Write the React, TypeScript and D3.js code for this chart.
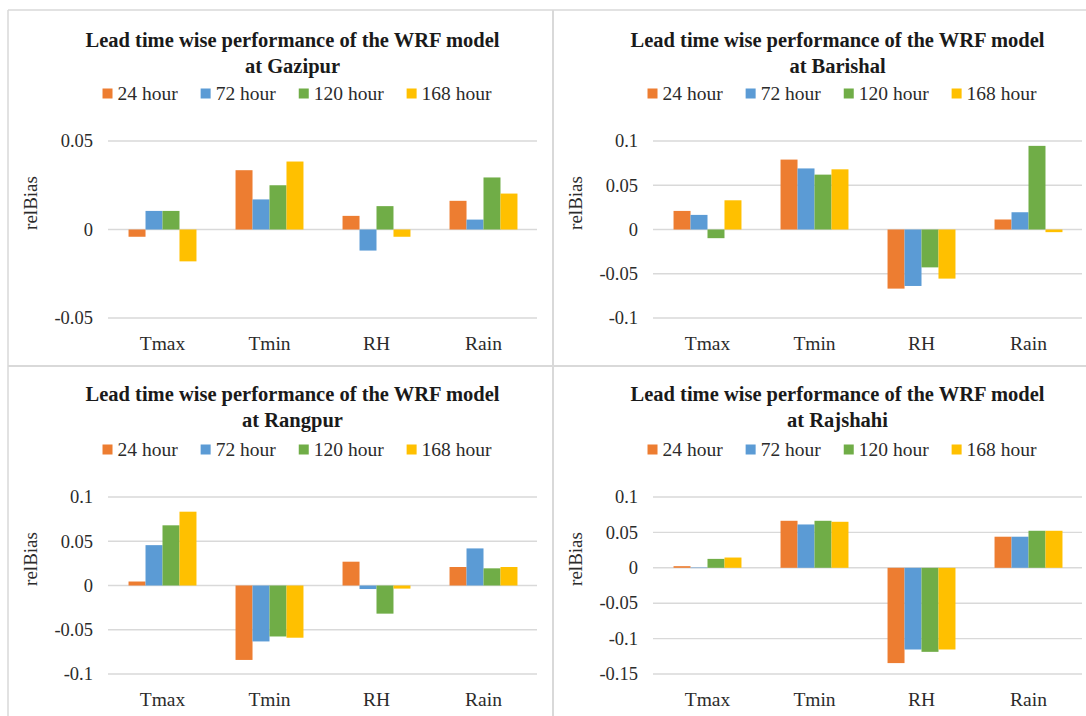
import React from 'react';
import * as d3 from 'd3';

const categories = ['Tmax', 'Tmin', 'RH', 'Rain'];
const seriesNames = ['24 hour', '72 hour', '120 hour', '168 hour'];
const seriesColors = ['#ED7D31', '#5B9BD5', '#70AD47', '#FFC000'];

// Gazipur
const gazipur24h = [-0.0041, 0.0335, 0.0077, 0.0162];
const gazipur72h = [0.0105, 0.017, -0.0119, 0.0056];
const gazipur120h = [0.0105, 0.025, 0.0132, 0.0294];
const gazipur168h = [-0.018, 0.0384, -0.0041, 0.0203];
const gazipurTicks = [-0.05, 0, 0.05];
const gazipurTickLabels = ['-0.05', '0', '0.05'];

// Barishal
const barishal24h = [0.021, 0.079, -0.0668, 0.0113];
const barishal72h = [0.0165, 0.069, -0.0638, 0.0195];
const barishal120h = [-0.0098, 0.062, -0.0428, 0.0945];
const barishal168h = [0.033, 0.068, -0.0555, -0.003];
const barishalTicks = [-0.1, -0.05, 0, 0.05, 0.1];
const barishalTickLabels = ['-0.1', '-0.05', '0', '0.05', '0.1'];

// Rangpur
const rangpur24h = [0.0045, -0.0841, 0.0269, 0.0209];
const rangpur72h = [0.0456, -0.0632, -0.004, 0.0419];
const rangpur120h = [0.068, -0.0576, -0.0318, 0.0194];
const rangpur168h = [0.0834, -0.059, -0.0035, 0.0209];
const rangpurTicks = [-0.1, -0.05, 0, 0.05, 0.1];
const rangpurTickLabels = ['-0.1', '-0.05', '0', '0.05', '0.1'];

// Rajshahi
const rajshahi24h = [0.0023, 0.0664, -0.1346, 0.0439];
const rajshahi72h = [0.0003, 0.0612, -0.1154, 0.0439];
const rajshahi120h = [0.0126, 0.0664, -0.1187, 0.0523];
const rajshahi168h = [0.0145, 0.065, -0.1154, 0.0523];
const rajshahiTicks = [-0.15, -0.1, -0.05, 0, 0.05, 0.1];
const rajshahiTickLabels = ['-0.15', '-0.1', '-0.05', '0', '0.05', '0.1'];

const FONT = "'Liberation Serif', 'Times New Roman', serif";
const GRID = '#d9d9d9';
const TEXT = '#2b2b2b';

let measureCanvas: HTMLCanvasElement | null = null;
function measure(text: string, font: string): number {
  if (!measureCanvas) measureCanvas = document.createElement('canvas');
  const ctx = measureCanvas.getContext('2d')!;
  ctx.font = font;
  return ctx.measureText(text).width;
}

type PanelProps = {
  left: number;
  top: number;
  station: string;
  series: number[][];
  ticks: number[];
  tickLabels: string[];
  titleShift?: number;
};

function Panel({ left, top, station, series, ticks, tickLabels, titleShift = 0 }: PanelProps) {
  const x0 = left + 101;
  const x1 = left + 529;
  const yTop = top + 131;
  const yBot = top + 308;
  const x = d3.scaleBand<string>().domain(categories).range([x0, x1]).paddingInner(0).paddingOuter(0);
  const xs = d3
    .scaleBand<string>()
    .domain(seriesNames)
    .range([0, x.bandwidth()])
    .paddingInner(0)
    .paddingOuter(1.15);
  const y = d3
    .scaleLinear()
    .domain([d3.min(ticks)!, d3.max(ticks)!])
    .range([yBot, yTop]);

  const legendFontSize = 19.5;
  const legendFont = `${legendFontSize}px ${FONT}`;
  const sq = 10;
  const sqGap = 5;
  const itemGap = 23;
  const widths = seriesNames.map((s) => sq + sqGap + measure(s, legendFont));
  const total = d3.sum(widths) + itemGap * (seriesNames.length - 1);
  let lx = left + 289 - total / 2;
  const legendBase = top + 89.5;
  const legendItems = seriesNames.map((s, i) => {
    const item = { name: s, x: lx, color: seriesColors[i] };
    lx += widths[i] + itemGap;
    return item;
  });

  return (
    <g>
      <text
        x={left + 284.5}
        y={top + 37 + titleShift}
        textAnchor="middle"
        fontFamily={FONT}
        fontWeight="bold"
        fontSize={20.5}
        fill="#1a1a1a"
      >
        Lead time wise performance of the WRF model
      </text>
      <text
        x={left + 284.5}
        y={top + 63 + titleShift}
        textAnchor="middle"
        fontFamily={FONT}
        fontWeight="bold"
        fontSize={20.5}
        fill="#1a1a1a"
      >
        {`at ${station}`}
      </text>
      {legendItems.map((it) => (
        <g key={it.name}>
          <rect x={it.x} y={legendBase - 11} width={sq} height={sq} fill={it.color} />
          <text
            x={it.x + sq + sqGap}
            y={legendBase}
            fontFamily={FONT}
            fontSize={legendFontSize}
            fill={TEXT}
          >
            {it.name}
          </text>
        </g>
      ))}
      {ticks.map((t, i) => (
        <g key={t}>
          <line x1={x0 - 1} x2={x1} y1={y(t)} y2={y(t)} stroke={GRID} strokeWidth={1.4} />
          <text
            x={x0 - 16}
            y={y(t)}
            dy="0.34em"
            textAnchor="end"
            fontFamily={FONT}
            fontSize={18.5}
            fill={TEXT}
          >
            {tickLabels[i]}
          </text>
        </g>
      ))}
      {series.map((vals, si) =>
        vals.map((v, ci) => {
          const cat = categories[ci];
          const bx = x(cat)! + xs(seriesNames[si])!;
          const ya = y(Math.max(0, v));
          const yb = y(Math.min(0, v));
          return (
            <rect
              key={`${si}-${ci}`}
              x={bx}
              y={ya}
              width={xs.bandwidth()}
              height={Math.max(0.5, yb - ya)}
              fill={seriesColors[si]}
            />
          );
        })
      )}
      {categories.map((c) => (
        <text
          key={c}
          x={x(c)! + x.bandwidth() / 2}
          y={top + 340}
          textAnchor="middle"
          fontFamily={FONT}
          fontSize={19.5}
          fill={TEXT}
        >
          {c}
        </text>
      ))}
      <text
        transform={`translate(${left + 29},${top + 193}) rotate(-90)`}
        textAnchor="middle"
        fontFamily={FONT}
        fontSize={19}
        fill={TEXT}
      >
        relBias
      </text>
    </g>
  );
}

export default function App() {
  return (
    <svg
      width={1086}
      height={716}
      style={{ position: 'absolute', left: 0, top: 0, background: '#fff' }}
    >
      <rect x={0} y={0} width={1086} height={716} fill="#fff" />
      <Panel
        left={8}
        top={10}
        station="Gazipur"
        series={[gazipur24h, gazipur72h, gazipur120h, gazipur168h]}
        ticks={gazipurTicks}
        tickLabels={gazipurTickLabels}
      />
      <Panel
        left={553}
        top={10}
        station="Barishal"
        series={[barishal24h, barishal72h, barishal120h, barishal168h]}
        ticks={barishalTicks}
        tickLabels={barishalTickLabels}
      />
      <Panel
        left={8}
        top={366}
        station="Rangpur"
        series={[rangpur24h, rangpur72h, rangpur120h, rangpur168h]}
        ticks={rangpurTicks}
        tickLabels={rangpurTickLabels}
        titleShift={-2}
      />
      <Panel
        left={553}
        top={366}
        station="Rajshahi"
        series={[rajshahi24h, rajshahi72h, rajshahi120h, rajshahi168h]}
        ticks={rajshahiTicks}
        tickLabels={rajshahiTickLabels}
        titleShift={-2}
      />
      <line x1={8} x2={8} y1={10} y2={716} stroke={GRID} strokeWidth={1.5} />
      <line x1={8} x2={1086} y1={10} y2={10} stroke={GRID} strokeWidth={1.5} />
      <line x1={553} x2={553} y1={10} y2={716} stroke={GRID} strokeWidth={2} />
      <line x1={8} x2={1086} y1={366} y2={366} stroke={GRID} strokeWidth={2} />
    </svg>
  );
}
